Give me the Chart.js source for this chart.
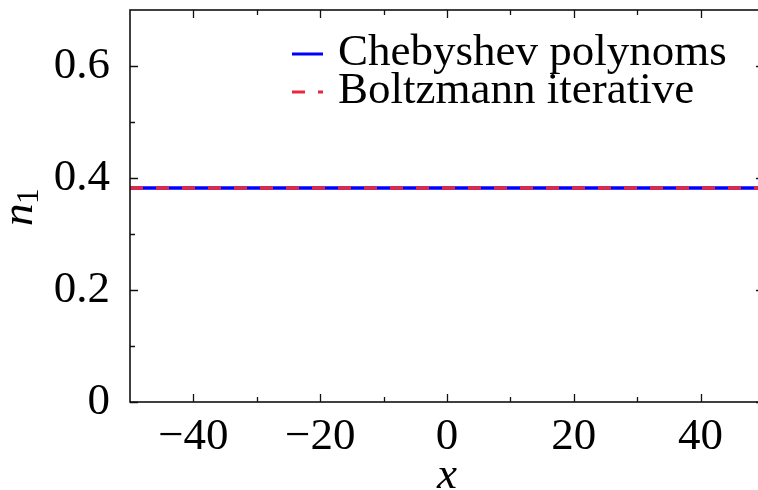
<!DOCTYPE html>
<html>
<head>
<meta charset="utf-8">
<script src="https://cdn.jsdelivr.net/npm/chart.js@4.4.0/dist/chart.umd.min.js"></script>
<style>
  html, body { margin: 0; padding: 0; background: #fff; overflow: hidden; }
  #wrap { width: 772px; height: 490px; }
</style>
</head>
<body>
<div id="wrap"><canvas id="myChart" width="772" height="490"></canvas></div>
<script>
'use strict';

let xValues = [-50, -25, 0, 25, 50];
let chebyshev = [0.382, 0.382, 0.382, 0.382, 0.382];
let boltzmann = [0.382, 0.382, 0.382, 0.382, 0.382];
let seriesNames = ['Chebyshev polynoms', 'Boltzmann iterative'];
let seriesColors = ['#0000ff', '#e8283a'];

let xTicks = [-40, -20, 0, 20, 40];
let xMinor = [-30, -10, 10, 30];
let yTicks = [0, 0.2, 0.4, 0.6];
let yMinor = [0.1, 0.3, 0.5];

let serif = '"Liberation Serif", "DejaVu Serif", serif';

function points(ys) {
    let pts = [];
    for (let i = 0; i < xValues.length; i++) {
        pts.push({ x: xValues[i], y: ys[i] });
    }
    return pts;
}

function fmt(v) {
    let s = String(Math.round(v * 10) / 10);
    return s.replace('-', '\u2212');
}

// box around the plot, inward ticks, legend and axis titles
let framePlugin = {
    id: 'frame',
    afterDatasetsDraw(chart) {
        let ctx = chart.ctx;
        let a = chart.chartArea;
        let sx = chart.scales.x;
        let sy = chart.scales.y;
        ctx.save();
        ctx.strokeStyle = '#111';
        ctx.lineWidth = 1.6;
        ctx.strokeRect(a.left, a.top, a.right - a.left, a.bottom - a.top);

        function tickX(v, len) {
            let px = Math.round(sx.getPixelForValue(v)) + 0.5;
            ctx.beginPath();
            ctx.moveTo(px, a.bottom); ctx.lineTo(px, a.bottom - len);
            ctx.moveTo(px, a.top); ctx.lineTo(px, a.top + len);
            ctx.stroke();
        }
        function tickY(v, len) {
            let py = Math.round(sy.getPixelForValue(v)) + 0.5;
            ctx.beginPath();
            ctx.moveTo(a.left, py); ctx.lineTo(a.left + len, py);
            ctx.moveTo(a.right, py); ctx.lineTo(a.right - len, py);
            ctx.stroke();
        }
        ctx.lineWidth = 1.3;
        xTicks.forEach(v => tickX(v, 8));
        xMinor.forEach(v => tickX(v, 5));
        yTicks.forEach(v => tickY(v, 8));
        yMinor.forEach(v => tickY(v, 5));

        // legend
        let lx = 292, ly = [54, 92];
        ctx.font = '45px ' + serif;
        ctx.fillStyle = '#000';
        ctx.textBaseline = 'alphabetic';
        chart.data.datasets.forEach((ds, i) => {
            ctx.beginPath();
            ctx.strokeStyle = ds.borderColor;
            ctx.lineWidth = 3;
            ctx.setLineDash(ds.borderDash || []);
            ctx.moveTo(lx, ly[i]);
            ctx.lineTo(lx + 31, ly[i]);
            ctx.stroke();
            ctx.setLineDash([]);
            ctx.fillText(ds.label, 338, ly[i] + 11);
        });

        // axis titles
        ctx.fillStyle = '#000';
        ctx.textAlign = 'center';
        ctx.font = 'italic 45px ' + serif;
        ctx.fillText('x', sx.getPixelForValue(0), 488);
        ctx.save();
        ctx.translate(32, 226);
        ctx.rotate(-Math.PI / 2);
        ctx.textAlign = 'left';
        ctx.fillText('n', 0, 0);
        ctx.font = '31px ' + serif;
        ctx.fillText('1', 22, 6);
        ctx.restore();
        ctx.restore();
    }
};

let ctx = document.getElementById('myChart').getContext('2d');
let myChart = new Chart(ctx, {
    type: 'line',
    data: {
        datasets: [{
            label: seriesNames[0],
            data: points(chebyshev),
            borderColor: seriesColors[0],
            borderWidth: 3.5,
            pointRadius: 0,
            fill: false,
            order: 2
        }, {
            label: seriesNames[1],
            data: points(boltzmann),
            borderColor: seriesColors[1],
            borderWidth: 3.5,
            borderDash: [13, 13],
            pointRadius: 0,
            fill: false,
            order: 1
        }]
    },
    options: {
        responsive: false,
        animation: false,
        layout: { padding: { top: 10, right: 8, left: 0, bottom: 0 } },
        plugins: {
            legend: { display: false },
            tooltip: { enabled: false }
        },
        scales: {
            x: {
                type: 'linear',
                min: -50,
                max: 50,
                afterBuildTicks: s => { s.ticks = xTicks.map(v => ({ value: v })); },
                afterFit: s => { s.height = 88; s.paddingLeft = 0; s.paddingRight = 0; },
                grid: { display: false, drawTicks: false },
                border: { display: false },
                ticks: {
                    padding: 8,
                    maxRotation: 0,
                    color: '#000',
                    font: { family: serif, size: 45 },
                    callback: v => fmt(v)
                }
            },
            y: {
                type: 'linear',
                min: 0,
                max: 0.7,
                afterBuildTicks: s => { s.ticks = yTicks.map(v => ({ value: v })); },
                afterFit: s => { s.width = 130; s.paddingTop = 0; s.paddingBottom = 0; },
                grid: { display: false, drawTicks: false },
                border: { display: false },
                ticks: {
                    padding: 20,
                    color: '#000',
                    font: { family: serif, size: 45 },
                    callback: v => fmt(v)
                }
            }
        }
    },
    plugins: [framePlugin]
});
</script>
</body>
</html>
